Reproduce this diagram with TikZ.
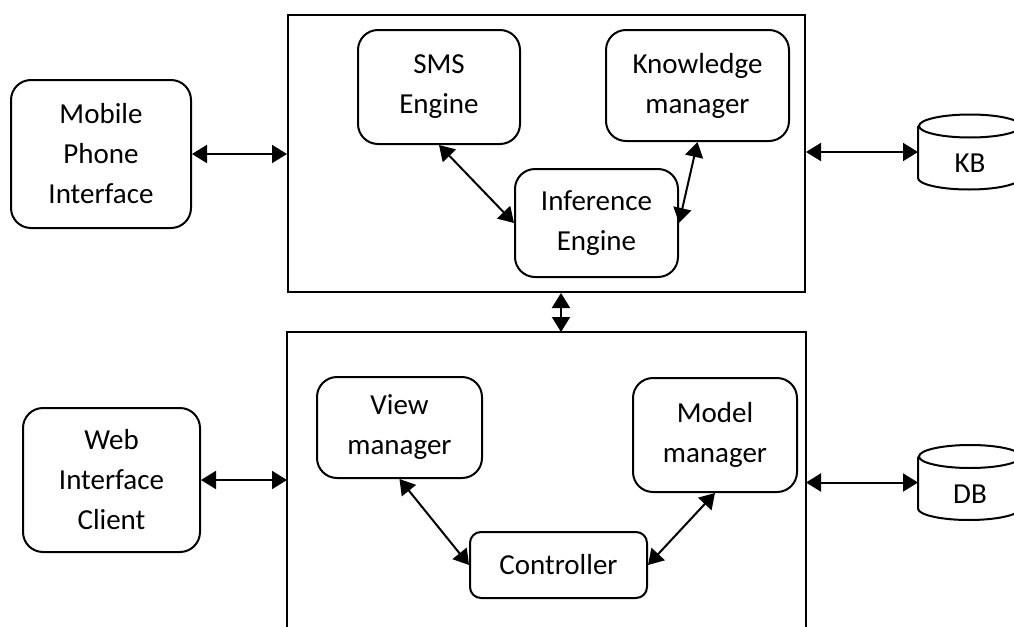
\documentclass[tikz,border=0pt]{standalone}
\usepackage{fontspec}
\setmainfont{Carlito}
\usetikzlibrary{arrows.meta}
\begin{document}
\begin{tikzpicture}[x=0.5pt, y=-0.5pt, line width=1pt, font=\fontsize{14.5}{20}\selectfont,
  box/.style={draw, rounded corners=10pt, align=center, inner sep=2pt},
  frame/.style={minimum width=258.5pt, minimum height=138.5pt, inner sep=0pt},
  store/.style={minimum width=51pt, minimum height=25pt, inner sep=0pt},
  link/.style={{Triangle[length=7.5pt,width=9pt]}-{Triangle[length=7.5pt,width=9pt]}}]
\useasboundingbox (0,0) rectangle (1014,627);
\clip (0,0) rectangle (1014,627);
% outer blocks
\node[box, minimum width=90pt, minimum height=74pt] (mob) at (101,154) {Mobile\\Phone\\Interface};
\node[box, minimum width=88.5pt, minimum height=72pt] (web) at (111.5,480) {Web\\Interface\\Client};
\node[draw, frame] (upper) at (546.5,153.5) {};
\node[frame, minimum height=147pt] (lower) at (546.5,480) {};
\draw (lower.south west) -- (lower.north west) -- (lower.north east) -- (lower.south east);
% upper block
\node[box, minimum width=81pt, minimum height=57pt] (sms) at (439,87) {SMS\\Engine};
\node[box, minimum width=91.5pt, minimum height=55.5pt] (know) at (697.5,85.5) {Knowledge\\manager};
\node[box, minimum width=81.5pt, minimum height=54pt] (inf) at (596.5,223) {Inference\\Engine};
\draw[link] (sms.south) -- (inf.west);
\draw[link] (know.south) -- (inf.east);
% lower block
\node[box, minimum width=82.5pt, minimum height=50.5pt] (view) at (399.5,427.5) {View\\manager};
\node[box, minimum width=82pt, minimum height=57pt] (model) at (715,435) {Model\\manager};
\node[box, rounded corners=5.5pt, minimum width=88.5pt, minimum height=33pt] (ctrl) at (558.5,565) {Controller};
\draw[link] (view.south) -- (ctrl.west);
\draw[link] (model.south) -- (ctrl.east);
% stores
\node[store] (kb) at (970,152) {};
\draw (kb.north west) -- (kb.south west) arc[start angle=180, end angle=360, x radius=25.5pt, y radius=5.75pt] -- (kb.north east);
\draw (kb.north) ellipse[x radius=25.5pt, y radius=5.75pt];
\node (kbtext) at ([yshift=-5.75pt]kb.center) {KB};
\node[store] (db) at (970,482.5) {};
\draw (db.north west) -- (db.south west) arc[start angle=180, end angle=360, x radius=25.5pt, y radius=5.75pt] -- (db.north east);
\draw (db.north) ellipse[x radius=25.5pt, y radius=5.75pt];
\node (dbtext) at ([yshift=-5.75pt]db.center) {DB};
% links
\draw[link] (mob.east) -- (mob.east -| upper.west);
\draw[link] (web.east) -- (web.east -| lower.west);
\draw[link] (kb.west -| upper.east) -- (kb.west);
\draw[link] (db.west -| lower.east) -- (db.west);
\draw[link] ([xshift=7.25pt]upper.south) -- ([xshift=7.25pt]lower.north);
\end{tikzpicture}
\end{document}
